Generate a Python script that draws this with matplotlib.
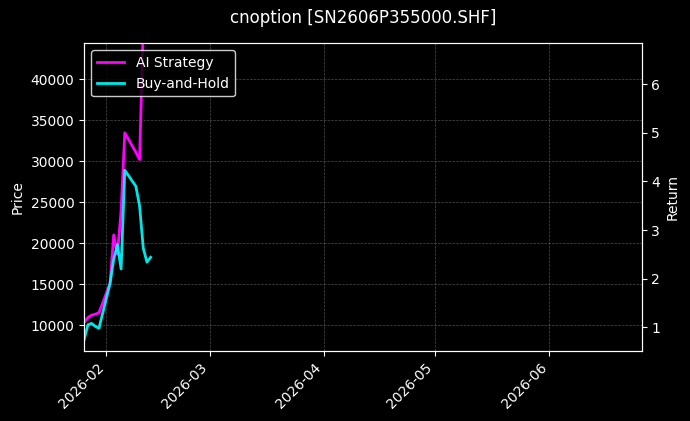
import numpy as np
import pandas as pd
import matplotlib
matplotlib.use("Agg")
import matplotlib.pyplot as plt
import matplotlib.dates as mdates

dates = pd.to_datetime(["2026-01-26", "2026-01-27", "2026-01-28", "2026-01-29", "2026-01-30",
                        "2026-02-02", "2026-02-03", "2026-02-04", "2026-02-05", "2026-02-06",
                        "2026-02-09", "2026-02-10", "2026-02-11", "2026-02-12", "2026-02-13"])
ai_ret = [1.1, 1.2, 1.25, 1.27, 1.3, 1.9, 2.9, 2.5, 3.4, 5.0, 4.6, 4.45, 7.2, np.nan, np.nan]
bh_ret = [0.75, 1.05, 1.08, 1.02, 0.98, 1.9, 2.4, 2.7, 2.2, 4.23, 3.9, 3.5, 2.63, 2.34, 2.44]

plt.style.use("dark_background")
fig, ax = plt.subplots(figsize=(6.9, 4.21), dpi=100)
ax2 = ax.twinx()

ax.set_ylim(6830, 44400)
ax.set_ylabel("Price")
ax2.plot(dates, ai_ret, color="#ff00ff", lw=2, label="AI Strategy")
ax2.plot(dates, bh_ret, color="#00ffff", lw=2, label="Buy-and-Hold", alpha=0.9)
ax2.set_ylim(0.51, 6.84)
ax2.set_ylabel("Return")

ax.set_xlim(pd.Timestamp("2026-01-26"), pd.Timestamp("2026-06-26"))
ax.xaxis.set_major_locator(mdates.MonthLocator())
ax.xaxis.set_major_formatter(mdates.DateFormatter("%Y-%m"))
plt.setp(ax.get_xticklabels(), rotation=45, ha="right")
ax.grid(True, ls="--", lw=0.5, color="gray", alpha=0.6)

ax2.legend(loc="upper left", facecolor="black", edgecolor="white")
ax.set_title("cnoption [SN2606P355000.SHF]", pad=15)
plt.subplots_adjust(left=0.122, right=0.93, top=0.897, bottom=0.166)
plt.savefig("out.png")
